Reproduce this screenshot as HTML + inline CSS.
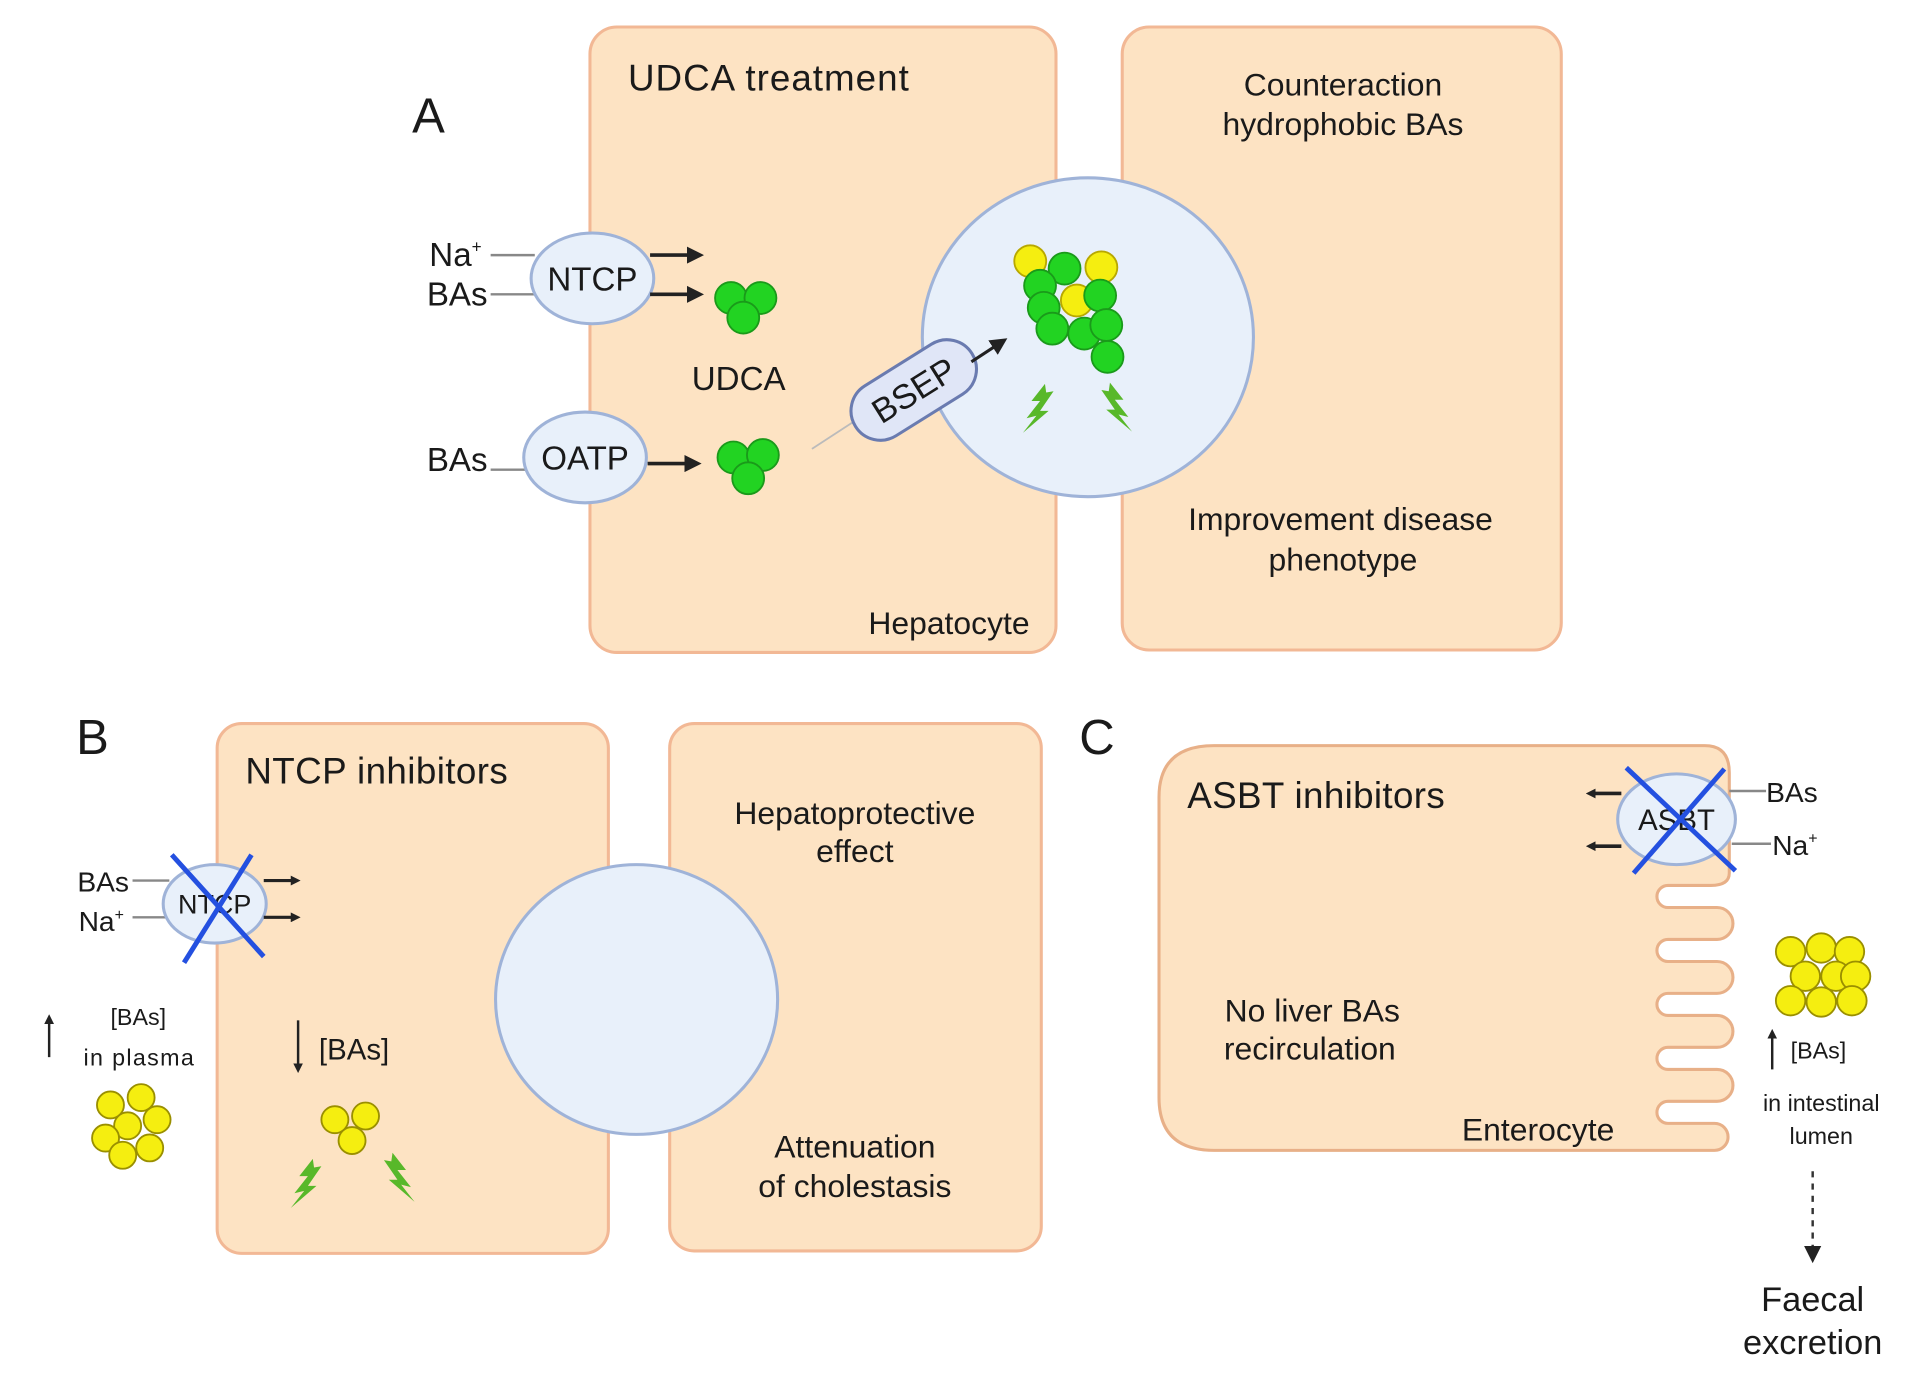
<!DOCTYPE html>
<html><head><meta charset="utf-8"><style>
html,body{margin:0;padding:0;background:#fff;}
svg{display:block;}
text{font-family:"Liberation Sans",sans-serif;fill:#1a1a1a;}
</style></head><body>
<svg width="1917" height="1376" viewBox="0 0 1563 1122" xmlns="http://www.w3.org/2000/svg">
<defs>
<marker id="ah" markerWidth="8" markerHeight="8" refX="5" refY="4" orient="auto" markerUnits="userSpaceOnUse">
<path d="M0,0 L8,4 L0,8 Z" fill="#222"/></marker>
<marker id="ah2" markerWidth="14" markerHeight="14" refX="10" refY="7" orient="auto" markerUnits="userSpaceOnUse">
<path d="M0,0 L14,7 L0,14 Z" fill="#222"/></marker>
<g id="bolt"><path d="M0,0 L-11,14 L-4,14 L-15,28 L-7,26 L-18,40 L3,22 L-4,22 L7,6 L1,7 Z" fill="#58b82a"/></g>
</defs>

<!-- Panel A -->
<text x="336" y="108" font-size="40">A</text>
<rect x="481" y="22" width="380" height="510" rx="22" fill="#fde3c3" stroke="#f2b895" stroke-width="2.5"/>
<rect x="915" y="22" width="358" height="508" rx="22" fill="#fde3c3" stroke="#f2b895" stroke-width="2.5"/>
<text x="512" y="74" font-size="30" textLength="229">UDCA treatment</text>
<text x="1095" y="78" font-size="26" text-anchor="middle">Counteraction</text>
<text x="1095" y="110" font-size="26" text-anchor="middle">hydrophobic BAs</text>
<text x="1093" y="432" font-size="26" text-anchor="middle">Improvement disease</text>
<text x="1095" y="465" font-size="26" text-anchor="middle">phenotype</text>
<text x="708" y="517" font-size="26">Hepatocyte</text>
<ellipse cx="887" cy="275" rx="135" ry="130" fill="#e8f0fa" stroke="#9fb3d8" stroke-width="2.5"/>

<line x1="400" y1="208" x2="436" y2="208" stroke="#888" stroke-width="2"/>
<line x1="400" y1="240" x2="436" y2="240" stroke="#888" stroke-width="2"/>
<text x="350" y="217" font-size="27">Na<tspan font-size="14" dy="-11">+</tspan></text>
<text x="348" y="249" font-size="27">BAs</text>
<ellipse cx="483" cy="227" rx="50" ry="37" fill="#e8f0fa" stroke="#9fb3d8" stroke-width="2.5"/>
<text x="483" y="237" font-size="27" text-anchor="middle">NTCP</text>
<line x1="530" y1="208" x2="570" y2="208" stroke="#222" stroke-width="3" marker-end="url(#ah2)"/>
<line x1="530" y1="240" x2="570" y2="240" stroke="#222" stroke-width="3" marker-end="url(#ah2)"/>
<g fill="#22d322" stroke="#1a9a1a" stroke-width="1.5">
<circle cx="596" cy="243" r="13"/><circle cx="620" cy="243" r="13"/><circle cx="606" cy="259" r="13"/>
</g>
<text x="564" y="318" font-size="27">UDCA</text>

<line x1="400" y1="383" x2="430" y2="383" stroke="#888" stroke-width="2"/>
<text x="348" y="384" font-size="27">BAs</text>
<ellipse cx="477" cy="373" rx="50" ry="37" fill="#e8f0fa" stroke="#9fb3d8" stroke-width="2.5"/>
<text x="477" y="383" font-size="27" text-anchor="middle">OATP</text>
<line x1="528" y1="378" x2="568" y2="378" stroke="#222" stroke-width="3" marker-end="url(#ah2)"/>
<g fill="#22d322" stroke="#1a9a1a" stroke-width="1.5">
<circle cx="598" cy="373" r="13"/><circle cx="622" cy="371" r="13"/><circle cx="610" cy="390" r="13"/>
</g>

<line x1="662" y1="366" x2="705" y2="338" stroke="#bbb" stroke-width="1.5"/>
<g transform="translate(745,318) rotate(-32)">
<rect x="-56" y="-24" width="112" height="48" rx="24" fill="#e0e6f7" stroke="#6a7bb0" stroke-width="2.5"/>
<text x="0" y="10" font-size="28" text-anchor="middle">BSEP</text>
</g>
<line x1="792" y1="295" x2="818" y2="278" stroke="#222" stroke-width="2.5" marker-end="url(#ah2)"/>

<g stroke-width="1.5">
<circle cx="840" cy="213" r="13" fill="#f5ee10" stroke="#b8a800"/>
<circle cx="898" cy="218" r="13" fill="#f5ee10" stroke="#b8a800"/>
<circle cx="878" cy="245" r="13" fill="#f5ee10" stroke="#b8a800"/>
<g fill="#22d322" stroke="#1a9a1a">
<circle cx="868" cy="219" r="13"/><circle cx="848" cy="233" r="13"/><circle cx="897" cy="241" r="13"/>
<circle cx="851" cy="251" r="13"/><circle cx="858" cy="268" r="13"/><circle cx="884" cy="272" r="13"/>
<circle cx="902" cy="265" r="13"/><circle cx="903" cy="291" r="13"/>
</g></g>
<use href="#bolt" transform="translate(852,313)"/>
<use href="#bolt" transform="translate(905,312) scale(-1,1)"/>

<!-- Panel B -->
<text x="62" y="615" font-size="40">B</text>
<rect x="177" y="590" width="319" height="432" rx="20" fill="#fde3c3" stroke="#f2b895" stroke-width="2.5"/>
<rect x="546" y="590" width="303" height="430" rx="20" fill="#fde3c3" stroke="#f2b895" stroke-width="2.5"/>
<text x="200" y="639" font-size="30" textLength="214">NTCP inhibitors</text>
<text x="697" y="672" font-size="26" text-anchor="middle">Hepatoprotective</text>
<text x="697" y="703" font-size="26" text-anchor="middle">effect</text>
<text x="697" y="944" font-size="26" text-anchor="middle">Attenuation</text>
<text x="697" y="976" font-size="26" text-anchor="middle">of cholestasis</text>
<ellipse cx="519" cy="815" rx="115" ry="110" fill="#e8f0fa" stroke="#9fb3d8" stroke-width="2.5"/>

<line x1="108" y1="718" x2="138" y2="718" stroke="#888" stroke-width="2"/>
<line x1="108" y1="748" x2="138" y2="748" stroke="#888" stroke-width="2"/>
<text x="63" y="727" font-size="23">BAs</text>
<text x="64" y="759" font-size="23">Na<tspan font-size="13" dy="-9">+</tspan></text>
<ellipse cx="175" cy="737" rx="42" ry="32" fill="#e8f0fa" stroke="#9fb3d8" stroke-width="2.5"/>
<text x="175" y="745" font-size="22" text-anchor="middle">NTCP</text>
<line x1="140" y1="697" x2="215" y2="780" stroke="#2450e0" stroke-width="4"/>
<line x1="205" y1="697" x2="150" y2="785" stroke="#2450e0" stroke-width="4"/>
<line x1="215" y1="718" x2="242" y2="718" stroke="#222" stroke-width="2.5" marker-end="url(#ah)"/>
<line x1="215" y1="748" x2="242" y2="748" stroke="#222" stroke-width="2.5" marker-end="url(#ah)"/>

<line x1="40" y1="862" x2="40" y2="830" stroke="#222" stroke-width="2" marker-end="url(#ah)"/>
<text x="90" y="836" font-size="19">[BAs]</text>
<text x="68" y="869" font-size="19" textLength="90">in plasma</text>
<g fill="#f5ee10" stroke="#9a8f00" stroke-width="1.5">
<circle cx="90" cy="901" r="11"/><circle cx="115" cy="895" r="11"/><circle cx="128" cy="913" r="11"/>
<circle cx="104" cy="918" r="11"/><circle cx="86" cy="928" r="11"/><circle cx="122" cy="936" r="11"/><circle cx="100" cy="942" r="11"/>
</g>
<line x1="243" y1="832" x2="243" y2="872" stroke="#222" stroke-width="2" marker-end="url(#ah)"/>
<text x="260" y="864" font-size="24">[BAs]</text>
<g fill="#f5ee10" stroke="#9a8f00" stroke-width="1.5">
<circle cx="273" cy="913" r="11"/><circle cx="298" cy="910" r="11"/><circle cx="287" cy="930" r="11"/>
</g>
<use href="#bolt" transform="translate(255,945)"/>
<use href="#bolt" transform="translate(320,940) scale(-1,1)"/>

<!-- Panel C -->
<text x="880" y="615" font-size="40">C</text>
<path d="M1410,712 Q1410,722 1395,722 L1360,722 A9,9 0 0,0 1360,740 L1400,740 A13,13 0 0,1 1400,766 L1360,766 A9,9 0 0,0 1360,784 L1400,784 A13,13 0 0,1 1400,810 L1360,810 A9,9 0 0,0 1360,828 L1400,828 A13,13 0 0,1 1400,854 L1360,854 A9,9 0 0,0 1360,872 L1400,872 A13,13 0 0,1 1400,898 L1360,898 A9,9 0 0,0 1360,916 L1398,916 A11,11 0 0,1 1398,938 L990,938 Q945,938 945,895 L945,650 Q945,608 990,608 L1390,608 Q1410,608 1410,630 Z" fill="#fde3c3" stroke="#e8b088" stroke-width="2.5"/>
<text x="968" y="659" font-size="30" textLength="210">ASBT inhibitors</text>
<text x="1070" y="833" font-size="26" text-anchor="middle">No liver BAs</text>
<text x="1068" y="864" font-size="26" text-anchor="middle">recirculation</text>
<text x="1192" y="930" font-size="26">Enterocyte</text>

<line x1="1410" y1="645" x2="1440" y2="645" stroke="#888" stroke-width="2"/>
<line x1="1412" y1="688" x2="1444" y2="688" stroke="#888" stroke-width="2"/>
<text x="1440" y="654" font-size="23">BAs</text>
<text x="1445" y="697" font-size="23">Na<tspan font-size="13" dy="-9">+</tspan></text>
<ellipse cx="1367" cy="668" rx="48" ry="37" fill="#e8f0fa" stroke="#9fb3d8" stroke-width="2.5"/>
<text x="1367" y="677" font-size="24" text-anchor="middle">ASBT</text>
<line x1="1326" y1="626" x2="1415" y2="710" stroke="#2450e0" stroke-width="4"/>
<line x1="1406" y1="627" x2="1332" y2="712" stroke="#2450e0" stroke-width="4"/>
<line x1="1322" y1="647" x2="1296" y2="647" stroke="#222" stroke-width="3" marker-end="url(#ah)"/>
<line x1="1322" y1="690" x2="1296" y2="690" stroke="#222" stroke-width="3" marker-end="url(#ah)"/>

<g fill="#f5ee10" stroke="#9a8f00" stroke-width="1.5">
<circle cx="1460" cy="776" r="12"/><circle cx="1485" cy="773" r="12"/><circle cx="1508" cy="776" r="12"/>
<circle cx="1472" cy="796" r="12"/><circle cx="1497" cy="796" r="12"/><circle cx="1513" cy="796" r="12"/>
<circle cx="1460" cy="816" r="12"/><circle cx="1485" cy="817" r="12"/><circle cx="1510" cy="816" r="12"/>
</g>
<line x1="1445" y1="872" x2="1445" y2="842" stroke="#222" stroke-width="2" marker-end="url(#ah)"/>
<text x="1460" y="863" font-size="19">[BAs]</text>
<text x="1485" y="906" font-size="19" text-anchor="middle">in intestinal</text>
<text x="1485" y="933" font-size="19" text-anchor="middle">lumen</text>
<line x1="1478" y1="955" x2="1478" y2="1020" stroke="#333" stroke-width="2" stroke-dasharray="5,5"/>
<path d="M1471,1016 L1485,1016 L1478,1030 Z" fill="#222"/>
<text x="1478" y="1069" font-size="28" text-anchor="middle">Faecal</text>
<text x="1478" y="1104" font-size="28" text-anchor="middle">excretion</text>
</svg>
</body></html>
